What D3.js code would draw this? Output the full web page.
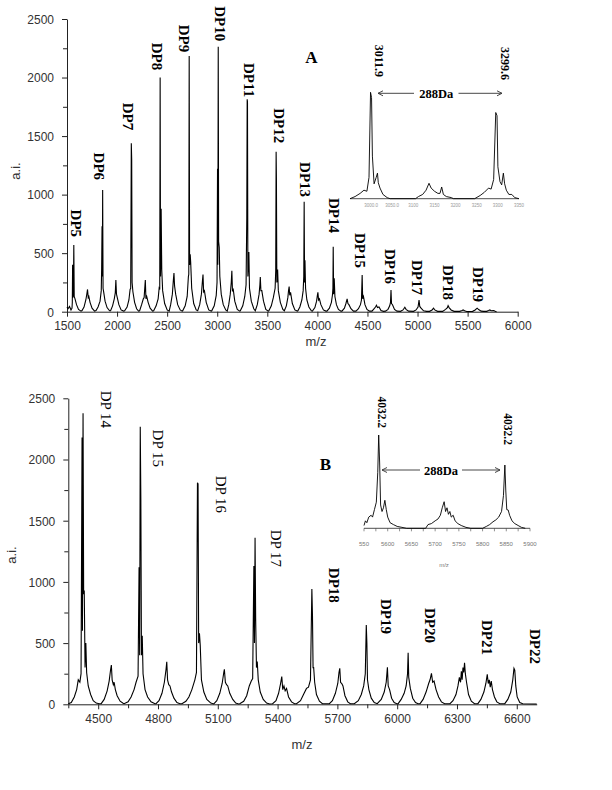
<!DOCTYPE html>
<html><head><meta charset="utf-8">
<script src="https://cdn.jsdelivr.net/npm/d3@7/dist/d3.min.js"></script>
<style>body{margin:0;background:#fff}</style>
</head><body>
<svg id="c" width="612" height="790" xmlns="http://www.w3.org/2000/svg"></svg>
<script>
// ---------- data ----------
// Panel A spectrum vertices [m/z, intensity]
const spectrumA = [
[1500,40],[1510,25],[1525,45],[1540,15],[1550,30],
[1553,80],[1556,400],[1559,120],[1564,150],[1568,570],[1572,130],[1580,110],[1595,60],[1615,20],[1640,5],
[1650,10],[1670,40],[1688,100],[1698,150],[1705,190],[1712,120],[1718,130],[1730,80],[1750,30],[1775,5],
[1790,10],[1810,40],[1830,90],[1842,180],[1846,370],[1850,730],[1853,300],[1856,1040],[1860,200],[1866,170],[1880,90],[1900,35],[1925,8],
[1935,8],[1955,50],[1972,110],[1982,160],[1988,270],[1994,150],[2002,120],[2018,60],[2040,15],[2065,5],
[2075,8],[2100,40],[2118,100],[2130,190],[2136,200],[2142,1438],[2146,1300],[2150,250],[2158,170],[2175,80],[2195,25],[2215,5],
[2225,8],[2245,60],[2262,110],[2270,120],[2282,270],[2288,110],[2296,130],[2310,80],[2330,30],[2355,5],
[2365,8],[2390,50],[2410,110],[2420,200],[2426,190],[2430,2000],[2434,300],[2440,880],[2446,360],[2455,180],[2475,70],[2500,15],[2520,5],
[2535,60],[2552,150],[2562,270],[2568,330],[2574,220],[2585,150],[2605,60],[2630,15],[2650,5],
[2655,8],[2680,50],[2700,130],[2712,300],[2716,320],[2720,2184],[2724,400],[2730,490],[2735,420],[2745,200],[2765,70],[2790,15],[2805,8],
[2825,60],[2842,150],[2852,260],[2858,318],[2864,170],[2872,180],[2890,80],[2915,15],[2940,5],
[2945,8],[2970,50],[2990,140],[2998,250],[3003,1220],[3006,400],[3010,2263],[3014,600],[3020,550],[3026,300],[3040,150],[3060,60],[3085,15],[3100,5],
[3115,60],[3130,150],[3140,250],[3146,350],[3152,180],[3160,190],[3175,90],[3200,20],[3225,5],
[3230,8],[3255,50],[3275,130],[3288,230],[3295,800],[3299,1814],[3302,1790],[3306,300],[3316,510],[3322,200],[3340,90],[3365,25],[3380,8],
[3400,60],[3418,150],[3426,230],[3430,296],[3436,180],[3445,180],[3462,90],[3485,20],[3510,5],
[3515,8],[3540,50],[3560,120],[3578,200],[3584,350],[3588,1366],[3591,1130],[3595,250],[3603,360],[3610,180],[3630,80],[3655,20],[3670,8],
[3690,50],[3705,120],[3712,180],[3718,215],[3724,140],[3732,165],[3750,70],[3775,15],[3800,5],
[3805,8],[3825,40],[3845,100],[3858,180],[3864,300],[3868,940],[3872,250],[3876,440],[3882,200],[3895,100],[3915,40],[3940,8],
[3950,5],[3975,35],[3992,90],[4000,140],[4005,165],[4012,100],[4020,110],[4035,60],[4060,15],[4085,5],
[4095,5],[4120,30],[4140,80],[4150,140],[4155,200],[4158,555],[4162,150],[4168,285],[4175,130],[4190,60],[4210,20],[4235,5],
[4245,5],[4270,30],[4285,70],[4297,110],[4305,70],[4315,60],[4335,25],[4360,5],
[4385,5],[4410,25],[4430,60],[4440,100],[4447,313],[4452,110],[4460,130],[4475,60],[4495,20],[4520,5],
[4545,5],[4565,25],[4580,40],[4590,55],[4600,35],[4615,40],[4635,10],[4660,3],
[4680,5],[4705,20],[4722,50],[4730,80],[4735,185],[4740,70],[4750,60],[4770,20],[4795,5],
[4830,3],[4855,15],[4873,38],[4885,20],[4910,5],
[4960,3],[4985,15],[5005,40],[5015,100],[5022,45],[5035,30],[5060,8],[5090,3],
[5120,3],[5145,15],[5160,30],[5172,15],[5200,3],
[5250,3],[5280,20],[5298,35],[5305,52],[5315,35],[5335,15],[5365,3],
[5420,3],[5445,10],[5455,15],[5470,8],[5490,2],
[5550,3],[5575,15],[5595,30],[5610,18],[5635,5],[5660,3],
[5690,3],[5710,10],[5722,15],[5735,8],[5760,10],[5775,3],[5789,0]
];
// Panel B spectrum vertices [m/z, intensity]
const spectrumB = [
[4350,5],[4365,15],[4380,60],[4392,120],[4400,200],[4408,180],[4414,250],[4419,2180],[4421,600],[4424,2377],[4427,900],[4430,930],[4434,300],[4438,500],[4442,260],[4450,150],[4462,80],[4475,30],[4490,10],[4505,5],
[4515,5],[4530,40],[4545,110],[4555,190],[4562,280],[4566,321],[4570,200],[4576,160],[4580,180],[4586,120],[4595,70],[4610,25],[4625,8],
[4630,5],[4650,20],[4665,60],[4680,120],[4690,180],[4700,230],[4705,1120],[4708,400],[4711,2268],[4714,1670],[4717,400],[4721,560],[4725,250],[4735,120],[4748,60],[4765,20],[4785,5],
[4790,5],[4805,30],[4820,90],[4832,180],[4840,280],[4844,348],[4848,200],[4854,160],[4860,150],[4868,100],[4880,50],[4895,15],[4910,5],
[4920,5],[4940,25],[4955,60],[4970,120],[4985,200],[4993,260],[4998,1810],[5001,1800],[5004,500],[5008,580],[5012,480],[5018,200],[5030,100],[5045,40],[5065,10],[5080,3],
[5095,30],[5110,90],[5122,170],[5130,260],[5133,286],[5138,180],[5144,160],[5150,150],[5160,90],[5175,40],[5190,10],[5205,3],
[5210,5],[5230,25],[5245,70],[5258,150],[5268,190],[5275,210],[5281,1130],[5284,500],[5287,1361],[5290,700],[5294,300],[5298,350],[5303,200],[5313,100],[5328,40],[5345,10],[5360,3],
[5375,5],[5392,30],[5405,90],[5415,170],[5421,226],[5426,120],[5432,150],[5438,110],[5445,130],[5455,60],[5470,20],[5485,5],
[5495,5],[5515,30],[5530,80],[5545,130],[5555,140],[5565,200],[5572,942],[5575,730],[5578,300],[5581,300],[5586,180],[5595,80],[5610,25],[5625,5],
[5660,5],[5675,30],[5690,90],[5702,170],[5708,260],[5712,294],[5716,180],[5722,170],[5728,150],[5738,70],[5752,20],[5765,5],
[5785,5],[5805,30],[5820,80],[5832,150],[5840,250],[5845,648],[5848,500],[5851,200],[5858,120],[5870,50],[5885,15],[5900,5],
[5920,40],[5935,100],[5945,180],[5951,302],[5955,150],[5962,120],[5972,50],[5985,15],[5998,5],
[6005,5],[6020,40],[6035,90],[6045,150],[6052,250],[6055,422],[6058,220],[6066,130],[6078,50],[6092,15],[6105,5],
[6115,5],[6130,40],[6145,100],[6158,170],[6165,200],[6172,253],[6178,180],[6185,190],[6195,120],[6208,60],[6222,20],[6238,5],
[6265,5],[6280,30],[6295,80],[6305,150],[6312,220],[6318,180],[6322,270],[6326,200],[6330,300],[6334,260],[6338,340],[6342,250],[6348,180],[6358,80],[6372,25],[6388,5],
[6405,5],[6420,40],[6435,100],[6445,170],[6452,245],[6457,170],[6462,200],[6467,140],[6472,190],[6478,120],[6488,60],[6500,20],[6515,5],
[6540,5],[6555,40],[6570,100],[6580,200],[6586,294],[6590,280],[6595,150],[6602,60],[6615,15],[6630,5],[6700,3]
];
// Inset A (relative intensity)
const insetA = [
[2950,0],[2962,2],[2974,5],[2983,8],[2990,7],[2995,20],[2998.6,100],[3001,95],[3003,40],[3007,14],[3012,20],[3015,24],[3017,15],[3021,10],[3028,4],[3038,1],[3045,0],
[3105,0],[3112,2],[3122,4],[3130,8],[3137,14.5],[3142,10],[3150,7],[3158,5],[3163,5],[3167,11],[3171,4],[3178,2],[3190,1],[3195,0],
[3245,0],[3258,3],[3268,6],[3278,10],[3284,9],[3290,18],[3295,81],[3298,78],[3300,30],[3305,16],[3309,13],[3313,24],[3316,14],[3320,8],[3326,4],[3333,4],[3340,1],[3350,0]
];
// Inset B (relative intensity)
const insetB = [
[5550,3],[5553,8],[5556,6],[5560,12],[5565,14],[5568,12],[5572,20],[5576,28],[5579,60],[5581,100],[5583,70],[5585,25],[5588,18],[5591,22],[5594,30],[5597,20],[5600,12],[5605,6],[5612,4],[5620,2],[5630,1],[5640,0],
[5680,0],[5685,4],[5692,5],[5700,8],[5706,10],[5711,14],[5715,22],[5719,28.5],[5722,18],[5725,22],[5728,15],[5731,18],[5734,12],[5738,14],[5742,8],[5748,5],[5755,3],[5765,1],[5775,0],
[5800,0],[5808,2],[5815,4],[5822,7],[5828,9],[5834,12],[5840,18],[5844,35],[5847,67.8],[5849,40],[5851,20],[5854,19.6],[5857,14],[5862,8],[5868,5],[5875,3],[5882,1],[5890,0]
];
// Tick values / labels
const ticksAX = [1500,2000,2500,3000,3500,4000,4500,5000,5500,6000];
const ticksBX = [4500,4800,5100,5400,5700,6000,6300,6600];
const ticksY = [0,500,1000,1500,2000,2500];
const insetATicks = [3000,3050,3100,3150,3200,3250,3300,3350];
const insetATickLabels = ["3000.0","3050.0","3100","3150","3200","3250","3300","3350"];
const insetBTicks = [5550,5600,5650,5700,5750,5800,5850,5900];
const insetBTickLabels = ["550","5600","5650","5700","5750","5800","5850","5900"];
// Peak labels: [text, m/z, intensity at label end]
const labelsA = [["DP5",1590,637],["DP6",1819,1124],["DP7",2109,1550],["DP8",2399,2062],["DP9",2668,2216],["DP10",3028,2310],
  ["DP11",3317,1832],["DP12",3617,1439],["DP13",3876,979],["DP14",4166,672],["DP15",4425,373],["DP16",4725,237],
  ["DP17",4994,143],["DP18",5304,100],["DP19",5603,83]];
const labelsB = [["DP 14",4539,2257,"normal"],["DP 15",4800,1939,"normal"],["DP 16",5116,1562,"normal"],["DP 17",5392,1121,"normal"],
  ["DP18",5683,829,"bold"],["DP19",5944,575,"bold"],["DP20",6165,501,"bold"],["DP21",6451,403,"bold"],["DP22",6692,329,"bold"]];
const insetALabels = [["3011.9",3018.6,114.4],["3299.6",3316.9,111.6]];
const insetBLabels = [["4032.2",5587.3,107.5],["4032.2",5853.8,89.3]];

// ---------- drawing ----------
const svg = d3.select("#c");
const sans = "'Liberation Sans', Arial, sans-serif";
const serif = "'Liberation Serif', 'Times New Roman', serif";
const line = (x, y) => d3.line().x(d => x(d[0])).y(d => y(d[1]));

function panel(opt) {
  const x = d3.scaleLinear().domain(opt.xd).range(opt.xr);
  const y = d3.scaleLinear().domain([0, 2500]).range(opt.yr);
  const g = svg.append("g");
  // minor ticks
  g.append("g").attr("transform", `translate(0,${opt.yr[0]})`)
    .call(d3.axisBottom(x).tickValues(opt.xMinor).tickSize(4).tickSizeOuter(0).tickFormat(""))
    .call(a => a.select(".domain").remove());
  g.append("g").attr("transform", `translate(${opt.xr[0]},0)`)
    .call(d3.axisLeft(y).tickValues(d3.range(250, 2500, 500)).tickSize(4).tickSizeOuter(0).tickFormat(""))
    .call(a => a.select(".domain").remove());
  const ax = g.append("g").attr("transform", `translate(0,${opt.yr[0]})`)
    .call(d3.axisBottom(x).tickValues(opt.xt).tickSize(5).tickSizeOuter(0).tickPadding(5).tickFormat(d3.format("d")));
  const ay = g.append("g").attr("transform", `translate(${opt.xr[0]},0)`)
    .call(d3.axisLeft(y).tickValues(ticksY).tickSize(5).tickSizeOuter(0).tickPadding(8).tickFormat(d3.format("d")));
  g.selectAll(".tick text").attr("font-family", sans).attr("font-size", 12).attr("fill", "#333");
  g.selectAll(".tick line, .domain").attr("stroke", "#222");
  ay.selectAll(".tick text").attr("dy", "0.36em");
  g.append("path").datum(opt.spec).attr("d", line(x, y))
    .attr("fill", "none").attr("stroke", "#000").attr("stroke-width", 1.1).attr("stroke-linejoin", "miter");
  // axis titles
  g.append("text").attr("transform", `translate(${opt.aiPos[0]},${opt.aiPos[1]}) rotate(-90)`)
    .attr("text-anchor", "middle").attr("font-family", sans).attr("font-size", 13).attr("fill", "#333").text("a.i.");
  g.append("text").attr("x", opt.mzPos[0]).attr("y", opt.mzPos[1])
    .attr("text-anchor", "middle").attr("font-family", sans).attr("font-size", 13).attr("fill", "#333").text("m/z");
  // peak labels
  g.selectAll("text.dp").data(opt.labels).join("text").attr("class", "dp")
    .attr("transform", d => `translate(${x(d[1])},${y(d[2])}) rotate(90)`)
    .attr("text-anchor", "end").attr("dy", "0.35em")
    .attr("font-family", serif).attr("font-size", 15).attr("font-weight", d => d[3] || "bold")
    .attr("fill", "#000").text(d => d[0]);
  return { x, y };
}

panel({ xd: [1500, 6000], xr: [67, 517.7], yr: [311.7, 19], xt: ticksAX, xMinor: [],
  spec: spectrumA, labels: labelsA, aiPos: [20, 171], mzPos: [316, 346] });
panel({ xd: [4350, 6700], xr: [68.3, 536.7], yr: [704.3, 398.3], xt: ticksBX,
  xMinor: d3.range(4350, 6701, 300), spec: spectrumB, labels: labelsB, aiPos: [16, 555], mzPos: [302, 749] });

function inset(opt) {
  const x = d3.scaleLinear().domain(opt.xd).range(opt.xr);
  const y = d3.scaleLinear().domain([0, 100]).range(opt.yr);
  const g = svg.append("g");
  g.append("line").attr("x1", opt.xr[0]).attr("x2", opt.xr[1]).attr("y1", opt.yr[0]).attr("y2", opt.yr[0])
    .attr("stroke", "#222").attr("stroke-width", 0.8);
  if (opt.tickMarks) {
    g.selectAll("line.tk").data(d3.range(opt.xd[0], opt.xd[1] + 1, 25)).join("line").attr("class", "tk")
      .attr("x1", d => x(d)).attr("x2", d => x(d)).attr("y1", opt.yr[0]).attr("y2", opt.yr[0] + 3)
      .attr("stroke", "#444").attr("stroke-width", 0.6);
  }
  g.selectAll("text.tl").data(opt.ticks).join("text").attr("class", "tl")
    .attr("x", d => x(d)).attr("y", opt.yr[0] + opt.tlOff).attr("text-anchor", "middle")
    .attr("font-family", sans).attr("font-size", opt.tlSize).attr("fill", opt.tlColor)
    .text((d, i) => opt.tickLabels[i]);
  g.append("path").datum(opt.spec).attr("d", line(x, y))
    .attr("fill", "none").attr("stroke", "#000").attr("stroke-width", 0.9);
  g.selectAll("text.pk").data(opt.labels).join("text").attr("class", "pk")
    .attr("transform", d => `translate(${x(d[1])},${y(d[2])}) rotate(90)`)
    .attr("text-anchor", "end").attr("dy", "0.35em")
    .attr("font-family", serif).attr("font-size", opt.pkSize).attr("font-weight", "bold").text(d => d[0]);
  // 288 Da arrow
  const ay = opt.arrow.y, x1 = opt.arrow.x1, x2 = opt.arrow.x2;
  const segs = [[x1, opt.arrow.t1], [opt.arrow.t2, x2]];
  g.selectAll("line.ar").data(segs).join("line").attr("class", "ar")
    .attr("x1", d => d[0]).attr("x2", d => d[1]).attr("y1", ay).attr("y2", ay)
    .attr("stroke", "#333").attr("stroke-width", 0.9);
  g.append("path").attr("d", `M${x1 + 5},${ay - 2.5}L${x1},${ay}L${x1 + 5},${ay + 2.5}`).attr("fill", "none").attr("stroke", "#333").attr("stroke-width", 0.9);
  g.append("path").attr("d", `M${x2 - 5},${ay - 2.5}L${x2},${ay}L${x2 - 5},${ay + 2.5}`).attr("fill", "none").attr("stroke", "#333").attr("stroke-width", 0.9);
  g.append("text").attr("x", (opt.arrow.t1 + opt.arrow.t2) / 2).attr("y", ay + 4.5).attr("text-anchor", "middle")
    .attr("font-family", serif).attr("font-size", 12.5).attr("font-weight", "bold").text("288Da");
  g.append("text").attr("x", opt.letter[0]).attr("y", opt.letter[1]).attr("text-anchor", "middle")
    .attr("font-family", serif).attr("font-size", 17).attr("font-weight", "bold").text(opt.letter[2]);
  return g;
}

inset({ xd: [2950, 3350], xr: [350, 519], yr: [198.7, 92.3], spec: insetA,
  ticks: insetATicks, tickLabels: insetATickLabels, tlOff: 8, tlSize: 4.5, tlColor: "#999", tickMarks: false,
  labels: insetALabels, pkSize: 12,
  arrow: { y: 93.3, x1: 378, x2: 502, t1: 414, t2: 458.5 }, letter: [311.5, 62.5, "A"] });
const gB = inset({ xd: [5550, 5900], xr: [364, 530], yr: [528.3, 435], spec: insetB,
  ticks: insetBTicks, tickLabels: insetBTickLabels, tlOff: 18, tlSize: 6, tlColor: "#777", tickMarks: true,
  labels: insetBLabels, pkSize: 11.5,
  arrow: { y: 470, x1: 382, x2: 500, t1: 420, t2: 462 }, letter: [325.5, 469.5, "B"] });
gB.append("text").attr("x", 444).attr("y", 567).attr("text-anchor", "middle")
  .attr("font-family", sans).attr("font-size", 6).attr("fill", "#777").text("m/z");
</script>
</body></html>
